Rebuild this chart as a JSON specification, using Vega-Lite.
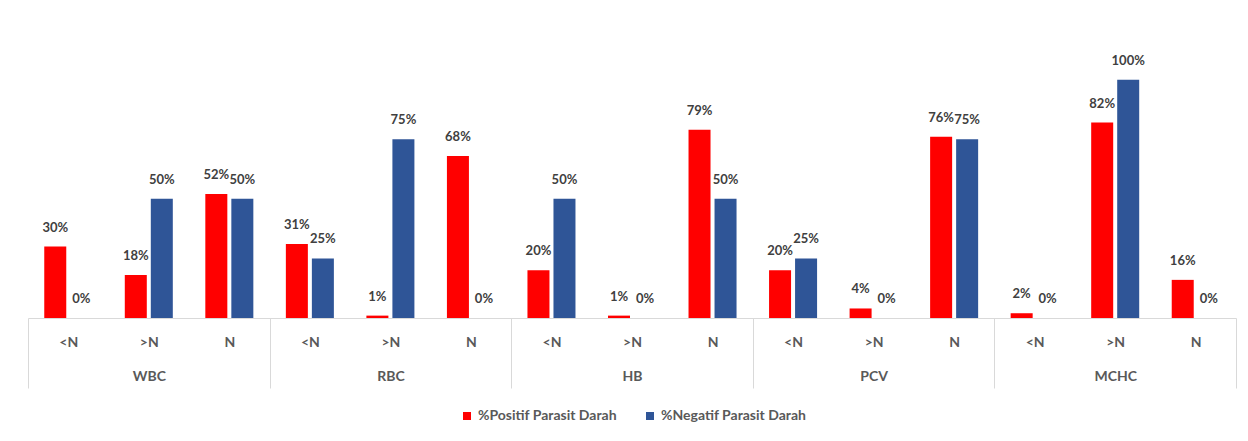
{
  "$schema": "https://vega.github.io/schema/vega-lite/v6.json",
  "width": 1208,
  "height": 286,
  "autosize": {"type": "none"},
  "padding": {"left": 28, "top": 32, "right": 12, "bottom": 123},
  "background": "white",
  "config": {"view": {"stroke": null}, "font": "Lato"},
  "data": {"values": [
    {"group": "WBC", "sub": "<N", "key": "WBC|<N", "series": "%Positif Parasit Darah", "value": 0.30},
    {"group": "WBC", "sub": "<N", "key": "WBC|<N", "series": "%Negatif Parasit Darah", "value": 0.00},
    {"group": "WBC", "sub": ">N", "key": "WBC|>N", "series": "%Positif Parasit Darah", "value": 0.18},
    {"group": "WBC", "sub": ">N", "key": "WBC|>N", "series": "%Negatif Parasit Darah", "value": 0.50},
    {"group": "WBC", "sub": "N", "key": "WBC|N", "series": "%Positif Parasit Darah", "value": 0.52},
    {"group": "WBC", "sub": "N", "key": "WBC|N", "series": "%Negatif Parasit Darah", "value": 0.50},
    {"group": "RBC", "sub": "<N", "key": "RBC|<N", "series": "%Positif Parasit Darah", "value": 0.31},
    {"group": "RBC", "sub": "<N", "key": "RBC|<N", "series": "%Negatif Parasit Darah", "value": 0.25},
    {"group": "RBC", "sub": ">N", "key": "RBC|>N", "series": "%Positif Parasit Darah", "value": 0.01},
    {"group": "RBC", "sub": ">N", "key": "RBC|>N", "series": "%Negatif Parasit Darah", "value": 0.75},
    {"group": "RBC", "sub": "N", "key": "RBC|N", "series": "%Positif Parasit Darah", "value": 0.68},
    {"group": "RBC", "sub": "N", "key": "RBC|N", "series": "%Negatif Parasit Darah", "value": 0.00},
    {"group": "HB", "sub": "<N", "key": "HB|<N", "series": "%Positif Parasit Darah", "value": 0.20},
    {"group": "HB", "sub": "<N", "key": "HB|<N", "series": "%Negatif Parasit Darah", "value": 0.50},
    {"group": "HB", "sub": ">N", "key": "HB|>N", "series": "%Positif Parasit Darah", "value": 0.01},
    {"group": "HB", "sub": ">N", "key": "HB|>N", "series": "%Negatif Parasit Darah", "value": 0.00},
    {"group": "HB", "sub": "N", "key": "HB|N", "series": "%Positif Parasit Darah", "value": 0.79},
    {"group": "HB", "sub": "N", "key": "HB|N", "series": "%Negatif Parasit Darah", "value": 0.50},
    {"group": "PCV", "sub": "<N", "key": "PCV|<N", "series": "%Positif Parasit Darah", "value": 0.20},
    {"group": "PCV", "sub": "<N", "key": "PCV|<N", "series": "%Negatif Parasit Darah", "value": 0.25},
    {"group": "PCV", "sub": ">N", "key": "PCV|>N", "series": "%Positif Parasit Darah", "value": 0.04},
    {"group": "PCV", "sub": ">N", "key": "PCV|>N", "series": "%Negatif Parasit Darah", "value": 0.00},
    {"group": "PCV", "sub": "N", "key": "PCV|N", "series": "%Positif Parasit Darah", "value": 0.76},
    {"group": "PCV", "sub": "N", "key": "PCV|N", "series": "%Negatif Parasit Darah", "value": 0.75},
    {"group": "MCHC", "sub": "<N", "key": "MCHC|<N", "series": "%Positif Parasit Darah", "value": 0.02},
    {"group": "MCHC", "sub": "<N", "key": "MCHC|<N", "series": "%Negatif Parasit Darah", "value": 0.00},
    {"group": "MCHC", "sub": ">N", "key": "MCHC|>N", "series": "%Positif Parasit Darah", "value": 0.82},
    {"group": "MCHC", "sub": ">N", "key": "MCHC|>N", "series": "%Negatif Parasit Darah", "value": 1.00},
    {"group": "MCHC", "sub": "N", "key": "MCHC|N", "series": "%Positif Parasit Darah", "value": 0.16},
    {"group": "MCHC", "sub": "N", "key": "MCHC|N", "series": "%Negatif Parasit Darah", "value": 0.00}
  ]},
  "encoding": {
    "x": {
      "field": "key",
      "type": "nominal",
      "sort": ["WBC|<N", "WBC|>N", "WBC|N", "RBC|<N", "RBC|>N", "RBC|N", "HB|<N", "HB|>N", "HB|N", "PCV|<N", "PCV|>N", "PCV|N", "MCHC|<N", "MCHC|>N", "MCHC|N"],
      "scale": {"paddingInner": 0, "paddingOuter": 0},
      "axis": {
        "title": null,
        "orient": "bottom",
        "labelAngle": 0,
        "tickBand": "extent",
        "ticks": true,
        "tickSize": 70,
        "tickWidth": 1,
        "tickColor": {"condition": {"test": "datum.index < 0 || test(/\\|N$/, datum.value)", "value": "#d9d9d9"}, "value": "rgba(0,0,0,0)"},
        "domainColor": "#d9d9d9",
        "domainWidth": 1,
        "labelPadding": -53,
        "labelExpr": "isValid(datum.value) ? (split(datum.value, '|')[1] == '>N' ? ['>N', split(datum.value, '|')[0]] : split(datum.value, '|')[1]) : ''",
        "labelLineHeight": 34,
        "labelFont": "Lato",
        "labelFontSize": 14,
        "labelFontWeight": "bold",
        "labelColor": "#595959",
        "labelOverlap": false,
        "labelBound": false
      }
    },
    "xOffset": {
      "field": "series",
      "type": "nominal",
      "sort": ["%Positif Parasit Darah", "%Negatif Parasit Darah"],
      "scale": {"paddingInner": 0.154, "paddingOuter": 0.625}
    },
    "y": {
      "field": "value",
      "type": "quantitative",
      "scale": {"domain": [0, 1.2]},
      "axis": null
    }
  },
  "layer": [
    {
      "mark": {"type": "bar"},
      "encoding": {
        "color": {
          "field": "series",
          "type": "nominal",
          "scale": {"domain": ["%Positif Parasit Darah", "%Negatif Parasit Darah"], "range": ["#FF0000", "#2F5597"]},
          "legend": {
            "orient": "none",
            "legendX": 432,
            "legendY": 377,
            "direction": "horizontal",
            "title": null,
            "symbolType": "square",
            "symbolSize": 64,
            "symbolStrokeWidth": 0,
            "labelFont": "Lato",
            "labelFontSize": 14,
            "labelFontWeight": "bold",
            "labelColor": "#595959",
            "columnPadding": 26
          }
        }
      }
    },
    {
      "mark": {"type": "text", "baseline": "bottom", "dy": -12, "font": "Lato", "fontSize": 13, "fontWeight": "bold", "color": "#404040"},
      "encoding": {
        "text": {"field": "value", "type": "quantitative", "format": ".0%"}
      }
    }
  ]
}
